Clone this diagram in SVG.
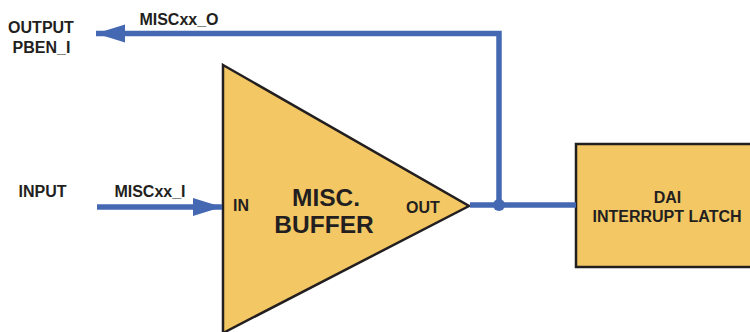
<svg xmlns="http://www.w3.org/2000/svg" width="750" height="332" viewBox="0 0 750 332">
<style>
.t{font-family:"Liberation Sans",Arial,sans-serif;font-weight:bold;fill:#231f20;font-size:16px}
.big{font-size:24.5px}
.w{stroke:#4568b3;stroke-width:5.5;fill:none}
.blk{fill:#f3c864;stroke:#231f20;stroke-width:2.5}
</style>
<defs>
<marker id="ah" markerUnits="userSpaceOnUse" markerWidth="32" markerHeight="20" refX="29" refY="9" orient="auto">
<path d="M0,0 L29,9 L0,18 Z" fill="#4568b3"/>
</marker>
</defs>
<rect width="750" height="332" fill="#fff"/>
<g id="buffer">
<path class="blk" d="M223,65 L469,206 L223,333 Z" stroke-linejoin="miter"/>
<text class="t" x="233" y="211">IN</text>
<text class="t" x="406" y="213">OUT</text>
<text class="t big" x="326" y="205.5" text-anchor="middle">MISC.</text>
<text class="t big" x="324" y="232.5" text-anchor="middle">BUFFER</text>
</g>
<g id="latch">
<rect class="blk" x="576" y="144" width="180" height="123"/>
<text class="t" x="667.5" y="203" text-anchor="middle">DAI</text>
<text class="t" x="667" y="222" text-anchor="middle">INTERRUPT LATCH</text>
</g>
<g id="labels">
<text class="t" x="41" y="33" text-anchor="middle">OUTPUT</text>
<text class="t" x="41.5" y="53" text-anchor="middle">PBEN_I</text>
<text class="t" x="179" y="25" text-anchor="middle">MISCxx_O</text>
<text class="t" x="42.5" y="197" text-anchor="middle">INPUT</text>
<text class="t" x="150" y="197" text-anchor="middle">MISCxx_I</text>
</g>
<g id="connectors">
<line class="w" x1="97" y1="207" x2="222" y2="207" marker-end="url(#ah)"/>
<line class="w" x1="470" y1="205" x2="576" y2="205"/>
<path class="w" d="M499,205 L499,33.5 L96,33.5" marker-end="url(#ah)" stroke-linejoin="miter"/>
<circle cx="499" cy="205" r="6" fill="#4568b3"/>
</g>
</svg>
